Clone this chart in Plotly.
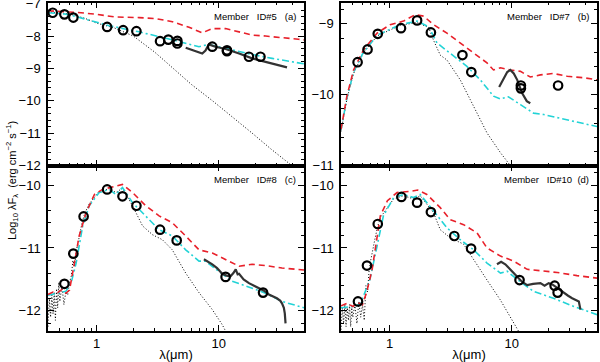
import plotly.graph_objects as go
import numpy as np

# ---------------- Panel (a) Member ID#5 ----------------
a_phot_lam = [0.437, 0.545, 0.645, 1.22, 1.65, 2.12, 3.31, 3.87, 4.59, 4.59, 8.87, 11.7, 11.7, 17.7, 22.0]
a_phot_y = [-7.28, -7.33, -7.43, -7.72, -7.82, -7.85, -8.16, -8.11, -8.15, -8.23, -8.33, -8.44, -8.47, -8.64, -8.64]
a_red_lam = [0.40, 0.5, 0.6, 0.746, 1.0, 1.40, 2.23, 3.05, 4.18, 5.72, 7.34, 8.87, 11.4, 14.7, 18.8, 24.2, 33, 45, 50]
a_red_y = [-7.22, -7.24, -7.26, -7.28, -7.33, -7.41, -7.43, -7.46, -7.56, -7.73, -7.90, -7.77, -7.77, -7.87, -7.97, -8.0, -8.04, -8.1, -8.12]
a_cyan_lam = [0.40, 0.55, 0.65, 0.8, 1.0, 1.27, 1.7, 2.23, 3.69, 5.37, 6.9, 8.3, 10, 12.9, 18.8, 27.4, 45, 50]
a_cyan_y = [-7.28, -7.32, -7.38, -7.48, -7.58, -7.68, -7.78, -7.87, -8.07, -8.23, -8.33, -8.26, -8.33, -8.44, -8.57, -8.69, -8.83, -8.86]
a_dot_lam = [0.40, 0.5, 0.6, 0.8, 1.0, 1.4, 2.0, 3.0, 4.2, 6.0, 8.9, 13, 18.8, 27, 40, 50]
a_dot_y = [-7.25, -7.28, -7.32, -7.45, -7.6, -7.75, -8.0, -8.5, -9.0, -9.5, -10.0, -10.5, -11.0, -11.5, -12.0, -12.3]
a_spec_lam = [5.37, 6.2, 7.34, 7.8, 8.3, 9.4, 11.4, 14.7, 18.8, 24.2, 31, 36.3]
a_spec_y = [-8.36, -8.45, -8.54, -8.45, -8.26, -8.33, -8.40, -8.54, -8.69, -8.80, -8.9, -8.97]

# ---------------- Panel (b) Member ID#7 ----------------
b_phot_lam = [0.547, 0.66, 0.80, 1.24, 1.68, 2.18, 3.95, 4.67, 11.9, 11.9, 24]
b_phot_y = [-9.54, -9.36, -9.14, -9.06, -8.95, -9.12, -9.44, -9.68, -9.87, -9.91, -9.87]
b_red_lam = [0.40, 0.447, 0.507, 0.61, 0.79, 1.01, 1.30, 1.62, 1.9, 2.29, 2.95, 3.8, 4.88, 6.28, 7.1, 8.1, 9.75, 11.8, 14.2, 17.2, 22, 28.5, 38.9, 50]
b_red_y = [-10.49, -10.02, -9.65, -9.37, -9.13, -9.01, -8.96, -8.87, -8.89, -9.01, -9.13, -9.27, -9.41, -9.55, -9.65, -9.62, -9.65, -9.67, -9.75, -9.72, -9.70, -9.74, -9.76, -9.79]
b_cyan_lam = [0.40, 0.447, 0.507, 0.61, 0.79, 1.22, 1.68, 2.09, 2.45, 3.14, 4.3, 5.53, 7.1, 8.1, 9.4, 11.8, 15.1, 18.3, 22, 32.3, 50]
b_cyan_y = [-10.5, -10.05, -9.68, -9.4, -9.16, -9.01, -8.96, -9.04, -9.27, -9.41, -9.60, -9.79, -10.02, -10.06, -10.03, -10.14, -10.26, -10.28, -10.31, -10.38, -10.45]
b_dot_lam = [0.40, 0.447, 0.507, 0.61, 0.79, 1.22, 1.68, 2.09, 2.29, 2.6, 2.95, 3.79, 4.58, 6.28, 8.1, 9.75, 11]
b_dot_y = [-10.52, -10.06, -9.7, -9.41, -9.17, -9.02, -8.98, -9.05, -9.23, -9.44, -9.51, -9.79, -10.07, -10.54, -10.82, -11.0, -11.15]
b_spec_lam = [7.9, 8.5, 9.2, 9.75, 10.4, 11.1, 12.2, 13.3, 14.2]
b_spec_y = [-9.89, -9.78, -9.68, -9.65, -9.70, -9.79, -9.98, -10.09, -10.12]

# ---------------- Panel (c) Member ID#8 ----------------
c_phot_lam = [0.545, 0.645, 0.783, 1.22, 1.63, 2.12, 3.31, 4.53, 11.4, 23.1]
c_phot_y = [-11.57, -11.09, -10.50, -10.07, -10.18, -10.33, -10.71, -10.88, -11.46, -11.71]
c_red_lam = [0.40, 0.44, 0.48, 0.52, 0.56, 0.6, 0.65, 0.72, 0.82, 0.96, 1.12, 1.4, 1.63, 1.97, 2.53, 3.25, 4.17, 5.37, 6.9, 8.87, 11.4, 14.7, 18.8, 24.2, 33, 50]
c_red_y = [-11.74, -11.70, -11.71, -11.66, -11.72, -11.67, -11.3, -10.81, -10.44, -10.15, -10.07, -10.02, -9.99, -10.12, -10.33, -10.49, -10.60, -10.81, -11.03, -11.08, -11.18, -11.29, -11.26, -11.28, -11.32, -11.35]
c_cyan_lam = [0.40, 0.48, 0.56, 0.62, 0.68, 0.77, 0.87, 1.05, 1.27, 1.44, 1.63, 1.97, 2.53, 3.25, 4.17, 5.37, 6.9, 7.8, 10, 12.9, 18.8, 24.2, 33, 50]
c_cyan_y = [-11.75, -11.72, -11.69, -11.55, -11.24, -10.65, -10.33, -10.12, -10.07, -10.15, -10.04, -10.28, -10.49, -10.71, -10.81, -11.03, -11.21, -11.21, -11.37, -11.53, -11.64, -11.72, -11.85, -11.95]
c_dot_lam = [0.40, 0.41, 0.42, 0.43, 0.44, 0.45, 0.46, 0.47, 0.48, 0.49, 0.50, 0.52, 0.54, 0.56, 0.58, 0.60, 0.62, 0.64, 0.66, 0.68, 0.70, 0.73, 0.76, 0.80, 0.87, 1.05, 1.27, 1.44, 1.63, 1.97, 2.38, 2.87, 3.46, 4.17, 5.37, 6.9, 8.87, 10.7, 11.6]
c_dot_y = [-12.25, -11.8, -12.1, -11.75, -12.05, -11.7, -12.15, -11.65, -11.95, -11.55, -11.85, -11.6, -11.9, -11.7, -11.75, -11.55, -11.45, -11.2, -11.3, -11.05, -10.95, -10.75, -10.6, -10.45, -10.3, -10.1, -10.06, -10.12, -10.05, -10.33, -10.65, -10.79, -10.87, -11.03, -11.40, -11.71, -11.98, -12.22, -12.35]
c_spec_lam = [7.57, 8.2, 8.87, 9.7, 10.7, 11.6, 12.5, 13.2, 13.8, 14.3, 14.7, 16, 17.7, 19.5, 21.3, 23.5, 25.8, 28, 30, 32, 33, 34.2, 34.8, 35.3]
c_spec_y = [-11.18, -11.22, -11.26, -11.32, -11.41, -11.44, -11.45, -11.40, -11.34, -11.42, -11.41, -11.5, -11.56, -11.6, -11.64, -11.68, -11.74, -11.77, -11.8, -11.84, -11.88, -11.95, -12.04, -12.2]

# ---------------- Panel (d) Member ID#10 ----------------
d_phot_lam = [0.551, 0.653, 0.80, 1.25, 1.68, 2.18, 3.39, 4.65, 11.6, 22.5, 23.8]
d_phot_y = [-11.85, -11.28, -10.62, -10.19, -10.28, -10.43, -10.81, -11.01, -11.51, -11.60, -11.71]
d_red_lam = [0.40, 0.45, 0.5, 0.55, 0.6, 0.65, 0.72, 0.84, 0.96, 1.15, 1.48, 1.7, 2.02, 2.6, 3.14, 4.04, 5.2, 6.28, 8.1, 10.4, 13.4, 17.2, 23.6, 34.3, 50]
d_red_y = [-11.92, -11.88, -11.93, -11.87, -11.9, -11.7, -11.34, -10.49, -10.25, -10.12, -10.10, -10.08, -10.15, -10.36, -10.55, -10.63, -10.76, -11.0, -11.13, -11.21, -11.34, -11.36, -11.39, -11.44, -11.48]
d_cyan_lam = [0.40, 0.5, 0.575, 0.69, 0.79, 0.89, 1.08, 1.30, 1.57, 1.78, 2.29, 2.95, 3.79, 4.88, 6.28, 8.1, 9.18, 11.1, 15.1, 22, 32.3, 50]
d_cyan_y = [-11.95, -11.93, -11.9, -11.5, -10.97, -10.49, -10.2, -10.15, -10.2, -10.15, -10.41, -10.68, -10.87, -11.03, -11.24, -11.40, -11.37, -11.5, -11.69, -11.80, -11.93, -12.06]
d_dot_lam = [0.40, 0.41, 0.42, 0.43, 0.44, 0.45, 0.46, 0.47, 0.48, 0.49, 0.50, 0.52, 0.54, 0.56, 0.58, 0.60, 0.62, 0.64, 0.66, 0.68, 0.70, 0.73, 0.76, 0.80, 0.85, 0.89, 1.08, 1.30, 1.57, 1.78, 2.29, 2.6, 3.14, 4.04, 4.88, 6.28, 8.1, 9.75, 11.0, 11.6]
d_dot_y = [-12.3, -11.95, -12.2, -11.9, -12.25, -11.95, -12.15, -11.9, -12.25, -11.95, -12.1, -11.9, -12.2, -11.85, -12.1, -11.9, -12.15, -11.6, -11.7, -11.35, -11.2, -11.0, -10.85, -10.65, -10.5, -10.45, -10.22, -10.17, -10.22, -10.17, -10.44, -10.71, -10.84, -10.94, -11.19, -11.51, -11.83, -12.09, -12.28, -12.35]
d_spec_lam = [7.58, 8.2, 8.87, 9.8, 11.1, 12.2, 13.4, 15, 17.2, 18.6, 20.1, 21.5, 23.0, 24.5, 26.7, 29, 31.3, 33.5, 35.5, 36.6]
d_spec_y = [-11.26, -11.22, -11.26, -11.35, -11.45, -11.54, -11.59, -11.57, -11.56, -11.6, -11.56, -11.58, -11.62, -11.66, -11.72, -11.76, -11.80, -11.83, -11.85, -11.98]

panel_labels = ["Member   ID#5   (a)", "Member   ID#7   (b)", "Member   ID#8   (c)", "Member   ID#10  (d)"]
y_ranges = [[-12, -6.97], [-11, -8.70], [-12.32, -9.69], [-12.32, -9.69]]
y_ticks = [[-12, -11, -10, -9, -8, -7], [-11, -10, -9], [-12, -11, -10], [-12, -11, -10]]
x_range = [0.4, 50]

RED = "#e8202a"
CYAN = "#22d3d6"
SPEC = "#333333"

panels = [
    (a_phot_lam, a_phot_y, a_red_lam, a_red_y, a_cyan_lam, a_cyan_y, a_dot_lam, a_dot_y, a_spec_lam, a_spec_y),
    (b_phot_lam, b_phot_y, b_red_lam, b_red_y, b_cyan_lam, b_cyan_y, b_dot_lam, b_dot_y, b_spec_lam, b_spec_y),
    (c_phot_lam, c_phot_y, c_red_lam, c_red_y, c_cyan_lam, c_cyan_y, c_dot_lam, c_dot_y, c_spec_lam, c_spec_y),
    (d_phot_lam, d_phot_y, d_red_lam, d_red_y, d_cyan_lam, d_cyan_y, d_dot_lam, d_dot_y, d_spec_lam, d_spec_y),
]

W, H = 600, 362
xdoms = [[48 / W, 304 / W], [341 / W, 597 / W]]
ydoms = [[(H - 165.5) / H, (H - 2.7) / H], [(H - 331) / H, (H - 165.5) / H]]

fig = go.Figure()
for i, (pl, py, rl, ry, cl, cy, dl, dy, sl, sy) in enumerate(panels):
    xa = "x" if i == 0 else f"x{i+1}"
    ya = "y" if i == 0 else f"y{i+1}"
    fig.add_trace(go.Scatter(x=dl, y=dy, mode="lines", xaxis=xa, yaxis=ya,
                             line=dict(color="black", width=1, dash="1px,2px"), showlegend=False))
    fig.add_trace(go.Scatter(x=cl, y=cy, mode="lines", xaxis=xa, yaxis=ya,
                             line=dict(color=CYAN, width=1.6, dash="7px,3px,2px,3px"), showlegend=False))
    fig.add_trace(go.Scatter(x=rl, y=ry, mode="lines", xaxis=xa, yaxis=ya,
                             line=dict(color=RED, width=1.6, dash="6px,4px"), showlegend=False))
    fig.add_trace(go.Scatter(x=sl, y=sy, mode="lines", xaxis=xa, yaxis=ya,
                             line=dict(color=SPEC, width=2.2), showlegend=False))
    fig.add_trace(go.Scatter(x=pl, y=py, mode="markers", xaxis=xa, yaxis=ya,
                             marker=dict(symbol="circle-open", size=8.5, color="black",
                                         line=dict(width=2.2, color="black")), showlegend=False))

minor_x = [0.4, 0.5, 0.6, 0.7, 0.8, 0.9, 2, 3, 4, 5, 6, 7, 8, 9, 20, 30, 40, 50]
tickfont = dict(family="Liberation Sans, Arial, sans-serif", size=13, color="black")

layout = dict(width=W, height=H, margin=dict(l=0, r=0, t=0, b=0, autoexpand=False),
              paper_bgcolor="white", plot_bgcolor="white",
              font=dict(family="Liberation Sans, Arial, sans-serif", color="black"))
for i in range(4):
    col = i % 2
    row = i // 2
    xk = "xaxis" if i == 0 else f"xaxis{i+1}"
    yk = "yaxis" if i == 0 else f"yaxis{i+1}"
    ya = "y" if i == 0 else f"y{i+1}"
    xa = "x" if i == 0 else f"x{i+1}"
    layout[xk] = dict(type="log", range=[np.log10(x_range[0]), np.log10(x_range[1])],
                      domain=xdoms[col], anchor=ya, showgrid=False, zeroline=False, automargin=False,
                      showline=True, linecolor="black", linewidth=1.5, mirror="allticks",
                      ticks="inside", ticklen=6, tickwidth=1, tickcolor="black",
                      tickvals=[1, 10], ticktext=["1", "10"], showticklabels=(row == 1),
                      tickfont=tickfont, ticklabeloverflow="allow",
                      minor=dict(tickvals=minor_x, ticks="inside", ticklen=3, tickwidth=1, tickcolor="black", showgrid=False),
                      title=dict(text="λ(μm)", font=dict(size=13), standoff=2) if row == 1 else None)
    layout[yk] = dict(range=y_ranges[i], domain=ydoms[row], anchor=xa, showgrid=False, zeroline=False, automargin=False,
                      showline=True, linecolor="black", linewidth=1.5, mirror="allticks",
                      ticks="inside", ticklen=6, tickwidth=1, tickcolor="black",
                      tickvals=y_ticks[i], ticktext=["\u2212" + str(abs(v)) for v in y_ticks[i]],
                      tickfont=tickfont, ticklabelstandoff=3, ticklabeloverflow="allow",
                      minor=dict(dtick=0.2, ticks="inside", ticklen=3, tickwidth=1, tickcolor="black", showgrid=False))
fig.update_layout(**layout)

label_pos = [(298, 16), (591, 16), (298, 180), (591, 180)]
for (px, py), txt in zip(label_pos, panel_labels):
    fig.add_annotation(text=txt, x=px / W, y=(H - py) / H, xref="paper", yref="paper",
                       xanchor="right", yanchor="middle", showarrow=False,
                       font=dict(size=9.5, color="black"))

fig.add_annotation(text="Log<sub>10</sub> λF<sub>λ</sub>  (erg cm<sup>−2</sup> s<sup>−1</sup>)",
                   x=12 / W, y=(H - 181) / H, xref="paper", yref="paper", textangle=-90,
                   showarrow=False, xanchor="center", yanchor="middle", font=dict(size=11, color="black"))

fig.write_html("out.html", config={"displayModeBar": False},
               post_script="document.body.style.margin='0';document.body.style.padding='0';"
                           "document.documentElement.style.margin='0';document.body.style.overflow='hidden';")
